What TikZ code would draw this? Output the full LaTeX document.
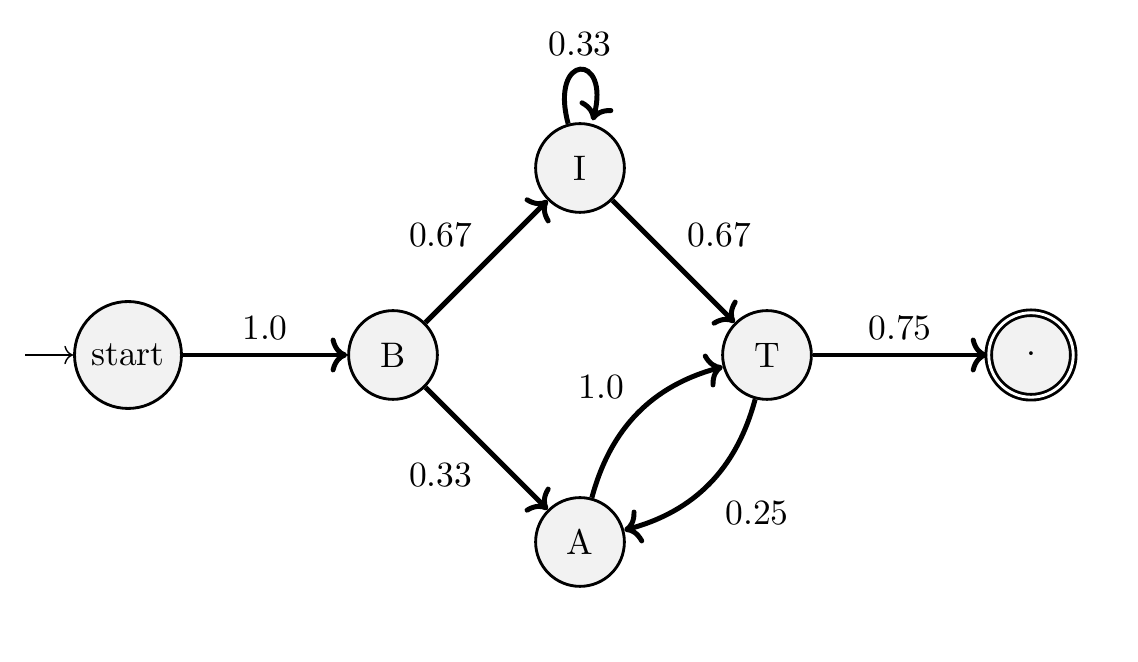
\documentclass[tikz,border=0pt]{standalone}
\usetikzlibrary{arrows.meta}
\begin{document}
\begin{tikzpicture}[x=0.2817pt,y=-0.2817pt,
  stnode/.style={circle,draw,line width=0.8pt,fill=gray!10,minimum size=25pt,inner sep=3.33pt},
  accnode/.style={circle,draw,fill=gray!10,minimum size=23.8pt,inner sep=1pt,double,double distance=0.8pt,line width=0.8pt},
  tedge/.style={->,line width=1.4pt},
  initedge/.style={->,line width=0.4pt}]
\useasboundingbox (0,0) rectangle (1138,662);
\node[stnode] (s) at (128,355) {start};
\node[stnode] (b) at (393,355) {B};
\node[stnode] (i) at (580,168) {I};
\node[stnode] (t) at (767,355) {T};
\node[stnode] (a) at (580,542) {A};
\node[accnode] (f) at (1031,355) {$\cdot$};
\coordinate (init) at (25,355);
\draw[initedge] (init) -- (s);
\draw[tedge] (s) -- node[above] {1.0} (b);
\draw[tedge] (b) -- node[above left] {0.67} (i);
\draw[tedge] (b) -- node[below left] {0.33} (a);
\draw[tedge] (i) -- node[above right] {0.67} (t);
\draw[tedge] (t) -- node[above] {0.75} (f);
\draw[tedge] (a) to[bend left=30] node[above left,inner sep=3.3pt] {1.0} (t);
\draw[tedge] (t) to[bend left=30] node[below right,inner sep=4pt] {0.25} (a);
\draw[tedge,shorten >=1pt] (i) to[out=105,in=75,looseness=8,min distance=5mm] node[above] {0.33} (i);
\end{tikzpicture}
\end{document}
